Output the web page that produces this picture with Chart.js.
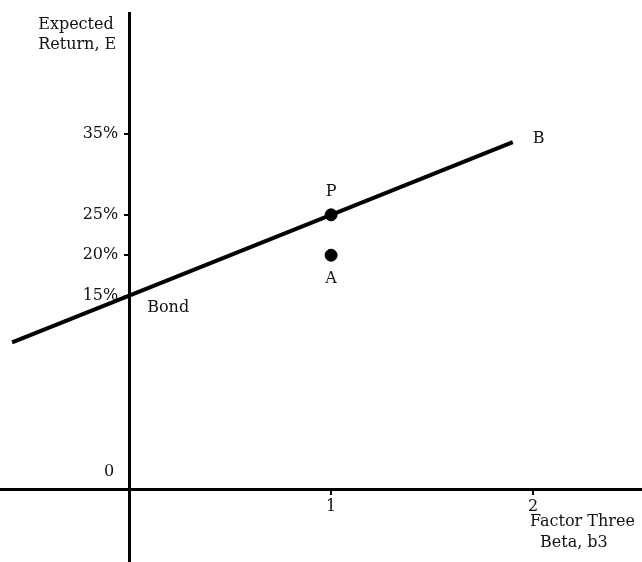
<!DOCTYPE html>
<html>
<head>
<meta charset="utf-8">
<title>Factor Three Beta</title>
<script src="https://cdn.jsdelivr.net/npm/chart.js@4/dist/chart.umd.min.js"></script>
<style>
    html, body { margin: 0; padding: 0; background: #fff; }
    #wrap { width: 642px; height: 562px; }
</style>
</head>
<body>
<div id="wrap"><canvas id="myChart" width="642" height="562"></canvas></div>
<script>
"use strict";

// ========== DATA ========== //
// the line through the bond, P and on to B: beta of factor three / expected return in %
const lineBetas = [-0.58, 0, 1, 1.9];
const lineReturns = [9.2, 15, 25, 34];
// the two marked portfolios
const pointNames = ['P', 'A'];
const pointBetas = [1, 1];
const pointReturns = [25, 20];

// tick labels
const xTickValues = [1, 2];
const xTickLabels = ['1', '2'];
const yTickValues = [15, 20, 25, 35];
const yTickLabels = ['15%', '20%', '25%', '35%'];
// the figure squeezes the gap between 0 and 15%, its origin sits where -9% would be
const yOrigin = -9;

// ========== CHART ========== //
const _font = '16px "DejaVu Serif"';
Chart.defaults.font.family = '"DejaVu Serif", "Liberation Serif", serif';
Chart.defaults.font.size = 16;
Chart.defaults.color = '#111';

function toPoints(xs, ys) {
    return xs.map((x, i) => ({ x: x, y: ys[i] }));
}

// text that sits on the figure
const figureText = {
    id: 'figureText',
    afterDraw(chart) {
        const ctx = chart.ctx;
        const xs = chart.scales.x;
        const ys = chart.scales.y;
        const ox = xs.getPixelForValue(0);
        const oy = ys.getPixelForValue(yOrigin);
        ctx.save();
        ctx.font = _font;
        ctx.fillStyle = '#111';
        ctx.textBaseline = 'middle';

        // y tick labels (a y axis placed at x = 0 puts them on the line)
        ctx.textAlign = 'right';
        yTickValues.forEach((v, i) => {
            ctx.fillText(yTickLabels[i], ox - 11, ys.getPixelForValue(v));
        });
        // origin
        ctx.fillText('0', ox - 15, oy - 17);

        // y axis title
        ctx.textAlign = 'left';
        ctx.fillText('Expected', ox - 91, 25);
        ctx.fillText('Return, E', ox - 91, 45);

        // x axis title
        const x2 = xs.getPixelForValue(2);
        ctx.fillText('Factor Three', x2 - 3, oy + 33);
        ctx.fillText('Beta, b3', x2 + 7, oy + 54);

        // bond and B at the ends of the line
        const last = lineBetas.length - 1;
        ctx.fillText('Bond', xs.getPixelForValue(0) + 18, ys.getPixelForValue(15) + 12);
        ctx.fillText('B', xs.getPixelForValue(lineBetas[last]) + 20, ys.getPixelForValue(lineReturns[last]) - 3);

        // P above its dot, A below
        ctx.textAlign = 'center';
        pointNames.forEach((name, i) => {
            let px = xs.getPixelForValue(pointBetas[i]);
            let py = ys.getPixelForValue(pointReturns[i]);
            ctx.fillText(name, px, i === 0 ? py - 23 : py + 24);
        });
        ctx.restore();
    }
};

let chartContainer = document.querySelector('#myChart');
let chart = new Chart(chartContainer, {
    type: 'scatter',
    data: {
        datasets: [{
            data: toPoints(lineBetas, lineReturns),
            showLine: true,
            borderColor: '#000',
            borderWidth: 4,
            pointRadius: 0,
            tension: 0
        }, {
            data: toPoints(pointBetas, pointReturns),
            backgroundColor: '#000',
            borderColor: '#000',
            pointRadius: 6
        }]
    },
    options: {
        responsive: false,
        animation: false,
        devicePixelRatio: 1,
        layout: { autoPadding: false, padding: { top: 13, left: 0, right: 0, bottom: 0 } },
        plugins: {
            legend: { display: false },
            tooltip: { enabled: false }
        },
        scales: {
            x: {
                type: 'linear',
                min: -0.64,
                max: 2.54,
                position: { y: yOrigin },
                afterBuildTicks: scale => {
                    scale.ticks = xTickValues.map(v => ({ value: v }));
                },
                ticks: {
                    callback: value => xTickLabels[xTickValues.indexOf(value)],
                    padding: 4
                },
                grid: { drawOnChartArea: false, drawTicks: true, tickLength: 4, color: '#000', lineWidth: 2 },
                border: { display: true, color: '#000', width: 3 }
            },
            y: {
                type: 'linear',
                min: -18,
                max: 50,
                position: { x: 0 },
                afterBuildTicks: scale => {
                    scale.ticks = yTickValues.map(v => ({ value: v }));
                },
                ticks: { display: false },
                grid: { drawOnChartArea: false, drawTicks: true, tickLength: 4, color: '#000', lineWidth: 2 },
                border: { display: true, color: '#000', width: 3 }
            }
        }
    },
    plugins: [figureText]
});
</script>
</body>
</html>
